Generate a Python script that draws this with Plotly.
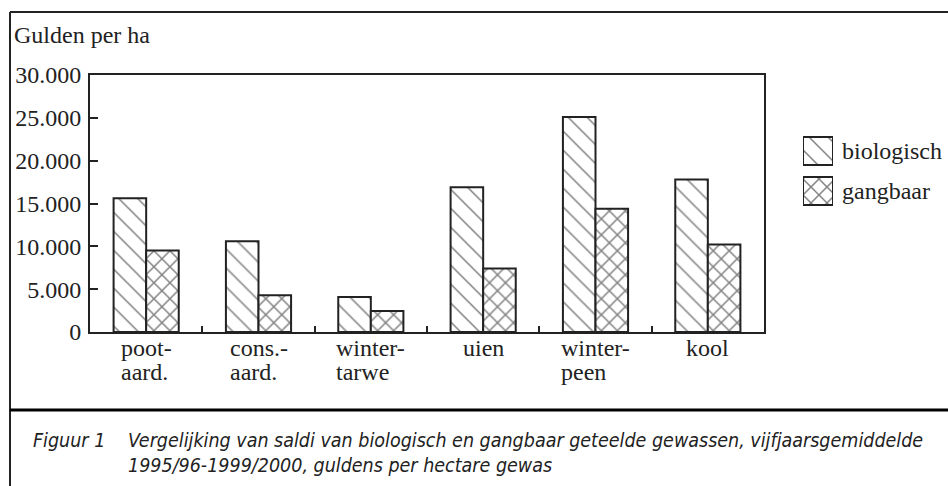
import plotly.graph_objects as go

categories = ["poot-aard.", "cons.-aard.", "winter-tarwe", "uien", "winter-peen", "kool"]
category_lines = [["poot-", "aard."], ["cons.-", "aard."], ["winter-", "tarwe"], ["uien"], ["winter-", "peen"], ["kool"]]
biologisch = [15600, 10600, 4100, 16900, 25100, 17800]
gangbaar = [9500, 4300, 2450, 7400, 14400, 10200]
series_names = ["biologisch", "gangbaar"]
legend_key = [1, 1]  # full-width legend swatches
y_title = "Gulden per ha"
caption_label = "Figuur 1"
caption_text = ("Vergelijking van saldi van biologisch en gangbaar geteelde gewassen, vijfjaarsgemiddelde"
                "<br>1995/96-1999/2000, guldens per hectare gewas")

W, H = 948, 486
L, R, T, B = 90, 764, 75, 332  # plot area in pixels


def px(x):
    return x / W


def py(y):
    return (H - y) / H


SERIF = "Liberation Serif, Times New Roman, serif"
CAP = "DejaVu Sans Condensed, Liberation Sans Narrow, Arial Narrow, sans-serif"
INK = "#222222"
HATCH = "#000000"
shapes = ["\\", "x"]
sizes = [13.4, 11.3]
solids = [0.11, 0.24]

fig = go.Figure()
for name, vals, shp, sz, so in zip(series_names, [biologisch, gangbaar], shapes, sizes, solids):
    fig.add_trace(go.Bar(
        x=categories, y=vals, name=name, showlegend=False,
        marker=dict(color="white", line=dict(color=INK, width=2),
                    pattern=dict(shape=shp, size=sz, solidity=so, fgcolor=HATCH, bgcolor="white",
                                 fillmode="overlay")),
    ))

# legend key: swatches drawn as bars on a small inset axis, names as its tick labels
fig.add_trace(go.Bar(
    x=legend_key, y=series_names, orientation="h", xaxis="x2", yaxis="y2",
    width=0.7, showlegend=False, hoverinfo="skip",
    marker=dict(color="white", line=dict(color=INK, width=2),
                pattern=dict(shape=shapes, size=sizes, solidity=solids, fgcolor=HATCH, bgcolor="white",
                             fillmode="overlay")),
))

fig.update_layout(
    width=W, height=H,
    margin=dict(l=0, r=0, t=0, b=0, pad=0),
    paper_bgcolor="white", plot_bgcolor="white",
    barmode="group", bargap=0.42, bargroupgap=0,
    separators=",.",
    font=dict(family=SERIF, size=24, color=INK),
    showlegend=False,
    xaxis=dict(domain=[px(L), px(R)], anchor="y",
               showline=True, linewidth=2, linecolor=INK, mirror=True, automargin=False,
               ticks="inside", tickson="boundaries", ticklen=6, tickwidth=2, tickcolor=INK,
               showgrid=False, zeroline=False, showticklabels=False),
    yaxis=dict(domain=[py(B), py(T)], anchor="x",
               range=[0, 30000], dtick=5000, tickformat=",d", automargin=False,
               showline=True, linewidth=2, linecolor=INK, mirror=True,
               ticks="inside", ticklen=8, tickwidth=2, tickcolor=INK,
               showgrid=False, zeroline=False, ticklabelstandoff=2,
               tickfont=dict(family=SERIF, size=24, color=INK)),
    xaxis2=dict(domain=[px(803), px(833)], range=[0, 1], anchor="y2", visible=False, fixedrange=True),
    yaxis2=dict(domain=[py(211), py(131)], anchor="x2", side="right", autorange="reversed",
                showline=False, showgrid=False, zeroline=False, ticks="", ticklabelstandoff=8,
                automargin=False,
                tickfont=dict(family=SERIF, size=24, color=INK), fixedrange=True),
)

# category labels: left-aligned blocks with tight (24px) line spacing
for cat, lines in zip(categories, category_lines):
    txt = "<br>".join('<span style="font-size:24px">' + ln + "</span>" for ln in lines)
    fig.add_annotation(text=txt, xref="x", yref="paper", x=cat, y=py(333),
                       xanchor="center", yanchor="top", showarrow=False, align="left",
                       font=dict(family=SERIF, size=18.5, color=INK))

# frame lines
fig.add_shape(type="line", xref="paper", yref="paper", x0=px(10), x1=1.01, y0=py(12), y1=py(12),
              line=dict(color=INK, width=2))
fig.add_shape(type="line", xref="paper", yref="paper", x0=px(10), x1=px(10), y0=py(12), y1=-0.01,
              line=dict(color=INK, width=2))
fig.add_shape(type="line", xref="paper", yref="paper", x0=px(10), x1=1.01, y0=py(410), y1=py(410),
              line=dict(color="black", width=3))

fig.add_annotation(text=y_title, xref="paper", yref="paper", x=px(12), y=py(35),
                   xanchor="left", yanchor="middle", showarrow=False,
                   font=dict(family=SERIF, size=24, color=INK))
fig.add_annotation(text="<i>" + caption_label + "</i>", xref="paper", yref="paper", x=px(31), y=py(427),
                   xanchor="left", yanchor="top", showarrow=False, align="left",
                   font=dict(family=CAP, size=19.5, color=INK))
fig.add_annotation(text="<i>" + caption_text + "</i>", xref="paper", yref="paper", x=px(126), y=py(427),
                   xanchor="left", yanchor="top", showarrow=False, align="left",
                   font=dict(family=CAP, size=19.5, color=INK))

fig.write_html("out.html", config={"displayModeBar": False},
               post_script="document.body.style.margin='0';document.body.style.overflow='hidden';")
